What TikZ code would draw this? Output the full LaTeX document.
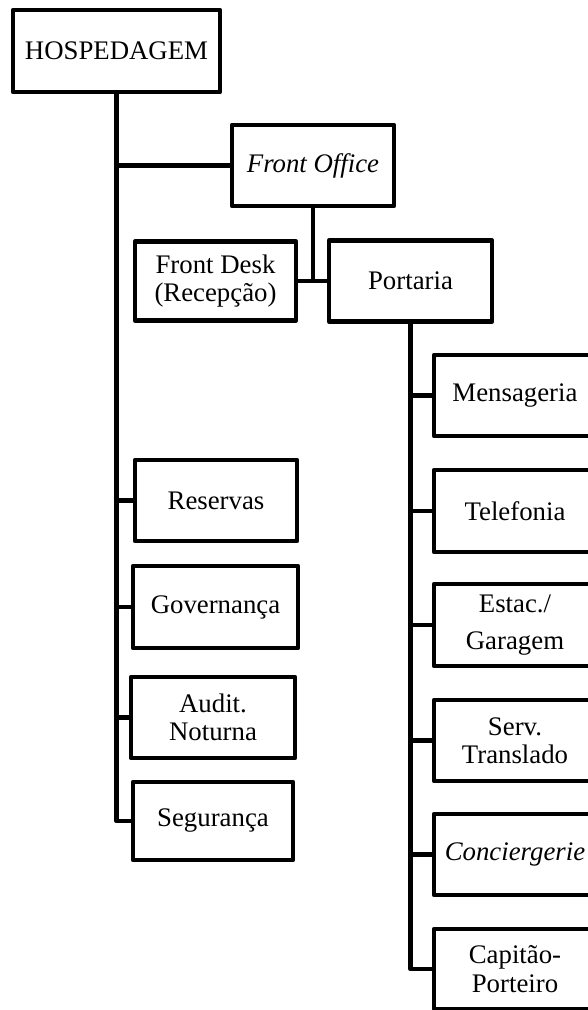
\documentclass[tikz,border=0pt]{standalone}
\usepackage{fontspec}
\setmainfont{Liberation Serif}
\begin{document}
\begin{tikzpicture}[x=1pt,y=-1pt,
  box/.style={draw,line width=4.5pt,line join=round,inner sep=0pt,align=center,
    font=\fontsize{26.8}{28.5}\selectfont},
  conn/.style={line width=4.5pt,line join=round}]
\useasboundingbox (0,0) rectangle (588,1010);
% top
\node[box,minimum width=207pt,minimum height=82pt] (h) at (116.5,51) {HOSPEDAGEM};
\node[box,minimum width=162pt,minimum height=81pt] (fo) at (313,165.5) {\itshape Front Office};
\node[box,minimum width=161pt,minimum height=79pt] (fd) at (215.5,281) {Front Desk\\(Recepção)};
\node[box,minimum width=163pt,minimum height=81pt] (p) at (410.5,281) {Portaria};
% left column
\node[box,minimum width=162pt,minimum height=81pt] (res) at (216,500.5) {Reservas};
\node[box,minimum width=165pt,minimum height=82pt] (gov) at (215.5,607) {Governança};
\node[box,minimum width=164pt,minimum height=81pt] (aud) at (213,717.5) {Audit.\\Noturna};
\node[box,minimum width=160pt,minimum height=78pt] (seg) at (213,821) {Segurança};
% right column
\node[box,minimum width=162pt,minimum height=81pt] (m) at (515,395.5) {Mensageria};
\node[box,minimum width=162pt,minimum height=82pt] (tel) at (515,511) {Telefonia};
\node[box,minimum width=162pt,minimum height=82pt] (est) at (515,625) {Estac./\\[9pt]Garagem};
\node[box,minimum width=162pt,minimum height=81pt] (serv) at (515,740.5) {Serv.\\Translado};
\node[box,minimum width=162pt,minimum height=81pt] (conc) at (515,854.5) {\itshape Conciergerie};
\node[box,minimum width=162pt,minimum height=80pt] (cap) at (515,969) {Capitão-\\Porteiro};
% connectors
\draw[conn] (h.south) |- (seg.west);
\draw[conn] (h.south |- fo.west) -- (fo.west);
\draw[conn] (h.south |- res.west) -- (res.west);
\draw[conn] (h.south |- gov.west) -- (gov.west);
\draw[conn] (h.south |- aud.west) -- (aud.west);
\draw[conn] (fo.south) -- (fo.south |- fd.east);
\draw[conn] (fd.east) -- (p.west);
\draw[conn] (p.south) |- (cap.west);
\draw[conn] (p.south |- m.west) -- (m.west);
\draw[conn] (p.south |- tel.west) -- (tel.west);
\draw[conn] (p.south |- est.west) -- (est.west);
\draw[conn] (p.south |- serv.west) -- (serv.west);
\draw[conn] (p.south |- conc.west) -- (conc.west);
\end{tikzpicture}
\end{document}
